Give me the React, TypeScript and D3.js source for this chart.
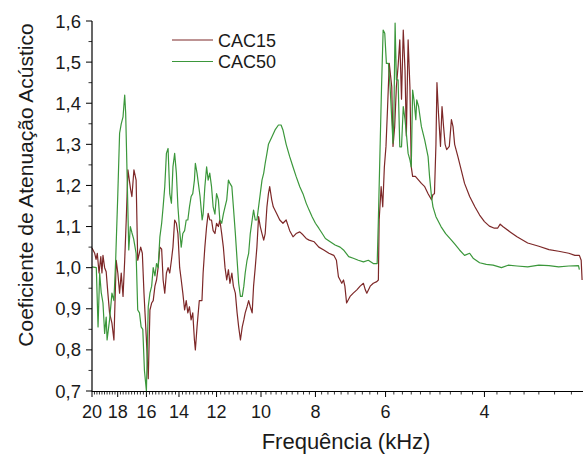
import React from "react";
import * as d3 from "d3";

// Frequency (kHz), attenuation coefficient
const cac15: [number, number][] = [
  [20.0, 1.048], [19.78, 1.035], [19.67, 1.02], [19.57, 1.035], [19.43, 0.987], [19.29, 1.027],
  [19.2, 0.987], [19.12, 1.03], [18.99, 1.0], [18.87, 0.99], [18.74, 0.938], [18.61, 0.89],
  [18.43, 0.865], [18.28, 0.824], [18.11, 1.018], [17.99, 0.987], [17.86, 0.938], [17.74, 0.987],
  [17.61, 0.93], [17.49, 1.018], [17.38, 1.116], [17.26, 1.238], [17.07, 1.19], [16.98, 1.173],
  [16.84, 1.238], [16.69, 1.213], [16.58, 1.018], [16.38, 1.05], [16.27, 1.035], [16.16, 0.938],
  [16.01, 0.832], [15.88, 0.73], [15.77, 0.897], [15.66, 0.914], [15.56, 0.92], [15.45, 0.955],
  [15.35, 0.97], [15.25, 1.0], [15.14, 1.05], [15.03, 1.045], [14.94, 0.97], [14.84, 0.938],
  [14.74, 0.987], [14.64, 1.0], [14.54, 0.987], [14.44, 1.018], [14.35, 1.05], [14.25, 1.116],
  [14.15, 1.108], [14.06, 1.083], [13.96, 1.0], [13.87, 0.97], [13.78, 0.938], [13.68, 0.897],
  [13.59, 0.92], [13.5, 0.89], [13.41, 0.905], [13.32, 0.873], [13.23, 0.89], [13.14, 0.824],
  [13.09, 0.8], [13.0, 0.856], [12.88, 0.92], [12.74, 0.92], [12.68, 0.987], [12.59, 1.05],
  [12.5, 1.1], [12.42, 1.132], [12.34, 1.116], [12.25, 1.116], [12.17, 1.09], [12.08, 1.083],
  [12.0, 1.108], [11.91, 1.1], [11.84, 1.116], [11.75, 1.083], [11.67, 1.05], [11.59, 1.0],
  [11.51, 0.97], [11.43, 0.995], [11.36, 0.962], [11.27, 0.987], [11.2, 0.955], [11.11, 0.938],
  [11.03, 0.89], [10.96, 0.856], [10.88, 0.824], [10.8, 0.856], [10.73, 0.873], [10.67, 0.89],
  [10.59, 0.905], [10.52, 0.92], [10.45, 0.905], [10.37, 0.89], [10.31, 0.955], [10.24, 1.0],
  [10.17, 1.05], [10.1, 1.124], [10.03, 1.1], [9.96, 1.083], [9.89, 1.067], [9.83, 1.083],
  [9.76, 1.148], [9.7, 1.18], [9.65, 1.197], [9.57, 1.165], [9.51, 1.148], [9.38, 1.132],
  [9.26, 1.116], [9.14, 1.108], [9.02, 1.116], [8.89, 1.09], [8.77, 1.075], [8.66, 1.083],
  [8.53, 1.087], [8.42, 1.08], [8.31, 1.071], [8.21, 1.067], [8.04, 1.063], [7.89, 1.05],
  [7.73, 1.043], [7.57, 1.035], [7.42, 1.03], [7.34, 1.018], [7.28, 0.978], [7.18, 0.962],
  [7.13, 0.97], [7.09, 0.955], [7.04, 0.914], [6.94, 0.93], [6.85, 0.938], [6.75, 0.946],
  [6.66, 0.955], [6.57, 0.962], [6.52, 0.946], [6.48, 0.938], [6.39, 0.955], [6.31, 0.962],
  [6.22, 0.966], [6.18, 0.97], [6.16, 1.116], [6.11, 1.197], [6.07, 1.148], [6.03, 1.245],
  [5.99, 1.295], [5.95, 1.392], [5.91, 1.497], [5.85, 1.44], [5.82, 1.295], [5.78, 1.343],
  [5.74, 1.44], [5.7, 1.49], [5.66, 1.554], [5.62, 1.41], [5.58, 1.578], [5.54, 1.48],
  [5.51, 1.32], [5.47, 1.554], [5.43, 1.44], [5.4, 1.245], [5.37, 1.222], [5.31, 1.222],
  [5.24, 1.213], [5.18, 1.205], [5.11, 1.197], [5.04, 1.18], [4.97, 1.165], [4.94, 1.178],
  [4.91, 1.18], [4.88, 1.3], [4.86, 1.45], [4.83, 1.376], [4.79, 1.295], [4.76, 1.392],
  [4.73, 1.343], [4.7, 1.3], [4.67, 1.287], [4.62, 1.295], [4.58, 1.36], [4.55, 1.343],
  [4.52, 1.3], [4.46, 1.27], [4.4, 1.238], [4.34, 1.205], [4.25, 1.173], [4.16, 1.148],
  [4.08, 1.128], [4.0, 1.112], [3.92, 1.101], [3.84, 1.096], [3.79, 1.096], [3.75, 1.106],
  [3.71, 1.1], [3.6, 1.087], [3.5, 1.075], [3.35, 1.06], [3.2, 1.052], [3.07, 1.044],
  [2.95, 1.04], [2.83, 1.035], [2.76, 1.03], [2.71, 1.03], [2.69, 1.018], [2.68, 0.97],
];

const cac50: [number, number][] = [
  [20.0, 1.002], [19.65, 1.0], [19.51, 0.856], [19.38, 0.987], [19.26, 0.94], [19.12, 0.914],
  [18.99, 0.84], [18.87, 0.88], [18.8, 0.824], [18.61, 0.873], [18.43, 0.938], [18.28, 0.92],
  [18.15, 1.018], [17.99, 1.18], [17.86, 1.327], [17.74, 1.35], [17.61, 1.367], [17.49, 1.42],
  [17.42, 1.376], [17.3, 1.197], [17.2, 1.043], [17.09, 1.1], [16.98, 1.085], [16.86, 1.07],
  [16.69, 1.035], [16.58, 0.897], [16.46, 0.89], [16.35, 0.856], [16.24, 0.85], [16.13, 0.75],
  [16.0, 0.7], [15.88, 0.905], [15.77, 0.938], [15.66, 0.955], [15.56, 1.0], [15.45, 0.98],
  [15.35, 1.01], [15.25, 1.0], [15.14, 1.075], [15.03, 1.108], [14.94, 1.148], [14.84, 1.197],
  [14.74, 1.278], [14.64, 1.29], [14.54, 1.18], [14.44, 1.157], [14.35, 1.245], [14.25, 1.278],
  [14.15, 1.23], [14.06, 1.148], [13.96, 1.09], [13.87, 1.05], [13.78, 1.083], [13.68, 1.09],
  [13.59, 1.116], [13.5, 1.116], [13.41, 1.148], [13.32, 1.173], [13.23, 1.18], [13.14, 1.213],
  [13.09, 1.254], [13.0, 1.23], [12.93, 1.205], [12.84, 1.173], [12.73, 1.116], [12.68, 1.13],
  [12.59, 1.197], [12.5, 1.245], [12.42, 1.213], [12.34, 1.23], [12.25, 1.197], [12.17, 1.148],
  [12.08, 1.13], [12.0, 1.18], [11.91, 1.165], [11.84, 1.116], [11.75, 1.108], [11.67, 1.13],
  [11.59, 1.148], [11.51, 1.165], [11.43, 1.213], [11.36, 1.205], [11.27, 1.197], [11.2, 1.148],
  [11.11, 1.083], [11.03, 1.018], [10.96, 0.962], [10.88, 0.93], [10.8, 0.93], [10.73, 0.955],
  [10.67, 0.987], [10.59, 1.018], [10.52, 1.035], [10.45, 1.083], [10.37, 1.116], [10.31, 1.14],
  [10.24, 1.116], [10.17, 1.116], [10.1, 1.148], [10.03, 1.18], [9.96, 1.213], [9.89, 1.23],
  [9.83, 1.254], [9.76, 1.278], [9.7, 1.3], [9.57, 1.317], [9.44, 1.335], [9.31, 1.347],
  [9.21, 1.347], [9.14, 1.335], [9.02, 1.3], [8.89, 1.27], [8.77, 1.245], [8.66, 1.222],
  [8.53, 1.197], [8.42, 1.18], [8.31, 1.157], [8.21, 1.14], [8.11, 1.124], [8.0, 1.108],
  [7.89, 1.096], [7.78, 1.083], [7.68, 1.071], [7.53, 1.063], [7.38, 1.055], [7.23, 1.05],
  [7.13, 1.043], [6.98, 1.027], [6.85, 1.023], [6.71, 1.018], [6.57, 1.014], [6.44, 1.018],
  [6.31, 1.01], [6.21, 1.01], [6.18, 1.116], [6.14, 1.278], [6.1, 1.44], [6.06, 1.578],
  [6.02, 1.57], [5.98, 1.497], [5.93, 1.497], [5.89, 1.44], [5.82, 1.303], [5.8, 1.36],
  [5.77, 1.595], [5.74, 1.457], [5.7, 1.457], [5.66, 1.294], [5.62, 1.294], [5.58, 1.392],
  [5.54, 1.36], [5.51, 1.327], [5.47, 1.278], [5.43, 1.262], [5.4, 1.245], [5.37, 1.432],
  [5.34, 1.408], [5.3, 1.36], [5.28, 1.408], [5.24, 1.392], [5.18, 1.343], [5.11, 1.31],
  [5.04, 1.27], [5.01, 1.222], [4.97, 1.173], [4.94, 1.148], [4.88, 1.124], [4.78, 1.1],
  [4.69, 1.083], [4.58, 1.067], [4.52, 1.058], [4.43, 1.043], [4.34, 1.03], [4.25, 1.035],
  [4.19, 1.023], [4.08, 1.012], [3.97, 1.008], [3.86, 1.006], [3.73, 1.0], [3.63, 1.006],
  [3.5, 1.004], [3.35, 1.002], [3.2, 1.006], [3.07, 1.005], [2.95, 1.002], [2.83, 1.004],
  [2.72, 1.005], [2.71, 0.995],
];

const seriesNames = ["CAC15", "CAC50"];
const seriesColors = ["#7d2828", "#3b973b"];
const xMajorTicks = [20, 18, 16, 14, 12, 10, 8, 6, 4];
const yMajorTicks = [0.7, 0.8, 0.9, 1.0, 1.1, 1.2, 1.3, 1.4, 1.5, 1.6];
const xTitle = "Frequência (kHz)";
const yTitle = "Coeficiente de Atenuação Acústico";

const W = 583;
const H = 456;
const FONT = "'Liberation Sans', Arial, sans-serif";

export default function App() {
  const x = d3.scaleLog().domain([20, 2.67]).range([92, 583]);
  const y = d3.scaleLinear().domain([0.7, 1.6]).range([391, 21]);
  const line = d3
    .line<[number, number]>()
    .x((d) => x(d[0]))
    .y((d) => y(d[1]));

  const xMinor: number[] = [];
  for (let k = 200; k >= 27; k -= 2) {
    const f = k / 10;
    if (k % 20 !== 0) xMinor.push(f);
  }
  const yMinor: number[] = [];
  for (let k = 0; k < 9; k++) yMinor.push(0.75 + k * 0.1);

  const fmt = (v: number) => v.toFixed(1).replace(".", ",");
  const data = [cac15, cac50];

  return (
    <svg
      width={W}
      height={H}
      style={{ position: "absolute", left: 0, top: 0, background: "#fff" }}
      fontFamily={FONT}
    >
      <rect width={W} height={H} fill="#fff" />
      {data.map((d, i) => (
        <path
          key={i}
          d={line(d) || ""}
          fill="none"
          stroke={seriesColors[i]}
          strokeWidth={1.2}
          strokeLinejoin="round"
        />
      ))}
      {/* axes */}
      <line x1={92} x2={583} y1={391.5} y2={391.5} stroke="#000" strokeWidth={1.2} />
      <line x1={92} x2={92} y1={21} y2={391.5} stroke="#000" strokeWidth={1.2} />
      {xMajorTicks.map((t) => (
        <g key={"xm" + t}>
          <line x1={x(t)} x2={x(t)} y1={391} y2={397} stroke="#000" strokeWidth={1} />
          <text x={x(t)} y={418} fontSize={18} textAnchor="middle" fill="#1a1a1a">
            {t}
          </text>
        </g>
      ))}
      {xMinor.map((t) => (
        <line key={"xn" + t} x1={x(t)} x2={x(t)} y1={391} y2={394.5} stroke="#000" strokeWidth={0.8} />
      ))}
      {yMajorTicks.map((t) => (
        <g key={"ym" + t}>
          <line x1={86} x2={92} y1={y(t)} y2={y(t)} stroke="#000" strokeWidth={1} />
          <text x={81} y={y(t) + 6.5} fontSize={18.5} textAnchor="end" fill="#1a1a1a">
            {fmt(t)}
          </text>
        </g>
      ))}
      {yMinor.map((t) => (
        <line key={"yn" + t} x1={88.5} x2={92} y1={y(t)} y2={y(t)} stroke="#000" strokeWidth={0.8} />
      ))}
      {/* titles */}
      <text x={346} y={449} fontSize={22} textAnchor="middle" fill="#1a1a1a">
        {xTitle}
      </text>
      <text
        transform="translate(33,185) rotate(-90)"
        fontSize={21}
        textAnchor="middle"
        fill="#1a1a1a"
      >
        {yTitle}
      </text>
      {/* legend */}
      {seriesNames.map((n, i) => (
        <g key={n}>
          <line x1={172} x2={213} y1={40 + i * 21.5} y2={40 + i * 21.5} stroke={seriesColors[i]} strokeWidth={1} />
          <text x={218} y={40 + i * 21.5 + 6.5} fontSize={18} fill="#1a1a1a">
            {n}
          </text>
        </g>
      ))}
    </svg>
  );
}
